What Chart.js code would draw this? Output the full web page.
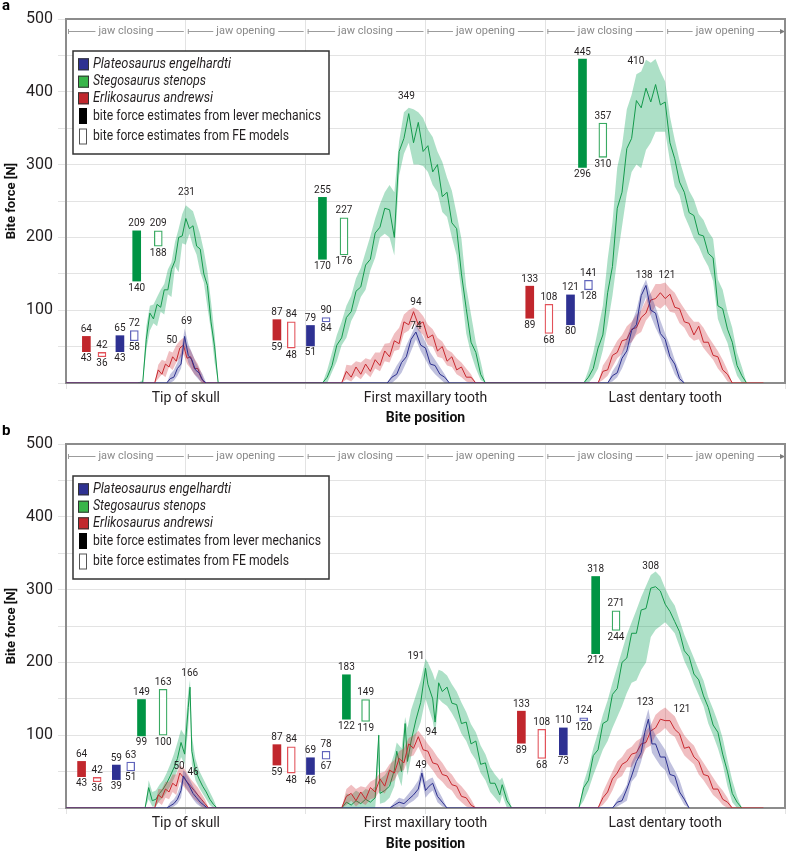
<!DOCTYPE html>
<html>
<head>
<meta charset="utf-8">
<title>Bite force</title>
<script src="https://cdn.jsdelivr.net/npm/chart.js@4.4.1/dist/chart.umd.min.js"></script>
<style>
  html, body { margin: 0; padding: 0; background: #fff; }
  .panel { position: relative; width: 787px; }
  #panelA { height: 425px; }
  #panelB { height: 426px; }
</style>
</head>
<body>
<div class="panel" id="panelA"><canvas id="chartA"></canvas></div>
<div class="panel" id="panelB"><canvas id="chartB"></canvas></div>
<script>
// x axis runs 0..600, one grid cell per 100
const biteLabels = {100: 'Tip of skull', 300: 'First maxillary tooth', 500: 'Last dentary tooth'};
const phaseLabels = ['jaw closing', 'jaw opening', 'jaw closing', 'jaw opening', 'jaw closing', 'jaw opening'];
const speciesNames = ['Plateosaurus engelhardti', 'Stegosaurus stenops', 'Erlikosaurus andrewsi'];
const methodNames = ['bite force estimates from lever mechanics', 'bite force estimates from FE models'];

// ---------- panel a: bar estimates ----------
const aRedLeverX = [17, 176, 387];
const aRedLever = [[43, 64], [59, 87], [89, 133]];
const aRedFeX = [30, 188, 403];
const aRedFe = [[36, 42], [48, 84], [68, 108]];
const aBlueLeverX = [45, 204, 421];
const aBlueLever = [[43, 65], [51, 79], [80, 121]];
const aBlueFeX = [57, 217, 436];
const aBlueFe = [[58, 72], [84, 90], [128, 141]];
const aGreenLeverX = [59, 214, 431];
const aGreenLever = [[140, 209], [170, 255], [296, 445]];
const aGreenFeX = [77, 232, 448];
const aGreenFe = [[188, 209], [176, 227], [310, 357]];

// ---------- panel a: curves ----------
const aGreenX = [60, 64, 67, 70, 73, 76, 79, 82, 85, 88, 91, 94, 97, 100, 103, 106, 109, 112, 115, 118, 121, 124, 127,
  214, 218, 222, 226, 230, 234, 238, 242, 246, 250, 254, 258, 262, 266, 270, 274, 278, 282, 286, 290, 294, 298, 302, 306, 310, 314, 318, 322, 326, 330, 334, 338, 342, 346, 350,
  432, 436, 440, 444, 448, 452, 456, 460, 464, 468, 472, 476, 480, 484, 488, 492, 496, 500, 504, 508, 512, 516, 520, 524, 528, 532, 536, 540, 544, 548, 552, 556, 560, 564, 568];
const aGreenY = [0, 0, 60, 96, 88, 108, 104, 128, 128, 156, 168, 200, 202, 226, 212, 216, 188, 184, 150, 134, 84, 50, 0,
  0, 8, 24, 52, 62, 90, 98, 126, 132, 162, 170, 206, 214, 240, 238, 200, 318, 336, 370, 330, 358, 318, 326, 290, 300, 256, 262, 220, 212, 150, 102, 56, 42, 12, 0,
  0, 8, 20, 48, 66, 124, 160, 240, 262, 322, 336, 388, 378, 405, 386, 410, 382, 386, 330, 308, 276, 262, 234, 230, 204, 202, 178, 172, 106, 102, 74, 56, 24, 10, 0];
const aGreenHi = [0, 4, 78, 106, 108, 118, 128, 136, 156, 166, 194, 212, 232, 244, 240, 236, 220, 204, 182, 154, 112, 68, 0,
  0, 18, 42, 66, 84, 106, 120, 144, 158, 180, 202, 226, 246, 262, 272, 262, 332, 372, 378, 376, 372, 364, 348, 338, 318, 304, 282, 264, 232, 198, 132, 94, 56, 30, 0,
  0, 18, 42, 74, 106, 170, 220, 296, 326, 376, 396, 424, 428, 444, 440, 445, 428, 414, 366, 334, 306, 284, 264, 252, 232, 224, 208, 198, 142, 128, 98, 76, 42, 22, 0];
const aGreenLo = [0, 0, 45, 72, 82, 78, 98, 94, 122, 118, 160, 152, 192, 190, 205, 188, 176, 152, 138, 104, 72, 28, 0,
  0, 0, 15, 30, 52, 62, 85, 98, 118, 128, 155, 172, 200, 205, 200, 175, 285, 315, 330, 300, 300, 298, 290, 272, 262, 235, 228, 200, 175, 125, 68, 40, 20, 4, 0,
  0, 0, 8, 20, 45, 80, 120, 170, 215, 260, 290, 300, 295, 320, 330, 345, 345, 345, 305, 270, 258, 230, 215, 198, 188, 172, 160, 140, 88, 70, 55, 30, 10, 0, 0];

const aRedX = [0, 74, 77, 80, 83, 86, 89, 92, 95, 98, 101, 104, 107, 110, 113, 116,
  230, 234, 238, 242, 246, 250, 254, 258, 262, 266, 270, 274, 278, 282, 286, 290, 294, 298, 302, 306, 310, 314, 318, 322, 326, 330, 334, 338, 342,
  444, 448, 452, 456, 460, 464, 468, 472, 476, 480, 484, 488, 492, 496, 500, 504, 508, 512, 516, 520, 524, 528, 532, 536, 540, 544, 548, 552, 556, 582];
const aRedY = [0, 0, 18, 12, 26, 22, 36, 30, 48, 52, 34, 36, 20, 20, 6, 0,
  0, 16, 8, 22, 12, 26, 16, 32, 24, 44, 36, 58, 54, 84, 80, 98, 80, 84, 62, 66, 44, 50, 30, 36, 18, 22, 8, 8, 0,
  0, 16, 18, 38, 42, 58, 60, 74, 76, 90, 96, 114, 116, 124, 116, 122, 104, 102, 84, 82, 66, 78, 56, 56, 38, 36, 18, 12, 0, 0];
const aRedHi = [0, 0, 25, 32, 30, 44, 42, 52, 58, 62, 52, 45, 34, 26, 14, 0,
  0, 25, 24, 30, 28, 34, 32, 42, 42, 54, 55, 68, 76, 94, 100, 104, 100, 92, 80, 74, 62, 57, 46, 42, 34, 28, 20, 12, 0,
  0, 24, 34, 46, 58, 66, 78, 84, 94, 100, 114, 124, 136, 136, 138, 130, 124, 112, 102, 92, 84, 84, 76, 64, 54, 44, 32, 18, 0, 0];
const aRedLo = [0, 0, 6, 12, 8, 22, 18, 28, 34, 40, 26, 20, 12, 8, 0, 0,
  0, 5, 2, 10, 5, 14, 8, 20, 16, 30, 28, 44, 46, 68, 72, 84, 72, 66, 52, 50, 36, 34, 24, 22, 12, 8, 2, 0, 0,
  0, 4, 10, 22, 34, 40, 52, 56, 66, 70, 86, 94, 106, 102, 108, 98, 96, 82, 76, 64, 58, 60, 48, 40, 32, 20, 12, 2, 0, 0];

const aBlueX = [0, 84, 87, 90, 93, 96, 99, 102, 105, 108, 111, 114, 117,
  268, 272, 276, 280, 284, 288, 292, 296, 300, 304, 308, 312, 316, 320,
  452, 456, 460, 464, 468, 472, 476, 480, 484, 488, 492, 496, 500, 504, 508, 512, 516];
const aBlueY = [0, 0, 6, 8, 20, 26, 64, 38, 32, 18, 14, 4, 0,
  0, 8, 12, 28, 36, 60, 70, 52, 48, 26, 24, 12, 8, 0,
  0, 10, 14, 34, 44, 72, 80, 120, 134, 100, 96, 68, 60, 36, 26, 6, 0];
const aBlueHi = [0, 0, 12, 18, 28, 42, 75, 54, 42, 30, 20, 12, 0,
  0, 12, 24, 34, 52, 66, 80, 70, 56, 42, 32, 22, 12, 0,
  0, 16, 26, 42, 62, 82, 100, 128, 142, 122, 104, 86, 68, 52, 32, 16, 0];
const aBlueLo = [0, 0, 0, 3, 10, 20, 50, 28, 18, 10, 4, 0, 0,
  0, 0, 6, 14, 28, 44, 60, 44, 32, 20, 12, 6, 0, 0,
  0, 2, 8, 20, 36, 56, 70, 100, 118, 92, 76, 62, 44, 28, 12, 2, 0];

// peak annotations (text, anchor x, anchor y)
const aPeakText = ['231', '69', '50', '349', '94', '74', '410', '138', '121'];
const aPeakX = [100.6, 100.6, 88.3, 284, 292, 292, 475.6, 482.5, 501.4];
const aPeakY = [261, 84, 58, 393, 110, 77, 441, 147, 147];

// ---------- panel b: bar estimates ----------
const bRedLeverX = [13, 176, 380];
const bRedLever = [[43, 64], [59, 87], [89, 133]];
const bRedFeX = [26, 188, 397];
const bRedFe = [[36, 42], [48, 84], [68, 108]];
const bBlueLeverX = [42, 204, 415];
const bBlueLever = [[39, 59], [46, 69], [73, 110]];
const bBlueFeX = [54, 217, 432];
const bBlueFe = [[51, 63], [67, 78], [120, 124]];
const bGreenLeverX = [63, 234, 442];
const bGreenLever = [[99, 149], [122, 183], [212, 318]];
const bGreenFeX = [81, 250, 459];
const bGreenFe = [[100, 163], [119, 149], [244, 271]];

// ---------- panel b: curves ----------
const bGreenX = [66, 69, 72, 75, 78, 81, 84, 87, 90, 93, 96, 99, 102, 103.5, 105, 108, 111, 114, 117, 120, 123, 126,
  230, 234, 238, 242, 246, 250, 254, 258, 261, 262, 266, 270, 274, 276, 280, 283, 285, 288, 292, 296, 300, 302, 306, 308, 311, 314, 318, 322, 326, 330, 334, 338, 342, 346, 350, 354, 358, 362, 364, 368, 372,
  428, 432, 436, 440, 444, 448, 452, 456, 460, 464, 468, 472, 476, 480, 484, 488, 492, 496, 500, 504, 508, 512, 516, 520, 524, 528, 532, 536, 540, 544, 548, 552, 556, 560, 564];
const bGreenY = [0, 28, 10, 12, 20, 26, 34, 44, 55, 68, 90, 74, 138, 166, 78, 52, 40, 30, 22, 12, 5, 0,
  0, 8, 4, 10, 6, 12, 8, 14, 100, 20, 24, 30, 52, 78, 50, 116, 64, 92, 121, 145, 192, 170, 150, 118, 172, 160, 166, 144, 142, 116, 118, 88, 92, 60, 62, 34, 34, 18, 32, 10, 0,
  0, 28, 38, 72, 80, 116, 120, 156, 164, 200, 206, 240, 240, 272, 274, 302, 304, 298, 280, 270, 256, 242, 216, 208, 184, 176, 154, 138, 114, 104, 74, 50, 20, 8, 0];
const bGreenHi = [0, 38, 22, 24, 32, 38, 48, 60, 74, 90, 108, 100, 160, 176, 100, 68, 52, 42, 32, 22, 12, 0,
  0, 20, 18, 24, 20, 26, 24, 30, 104, 40, 45, 55, 75, 90, 82, 125, 110, 135, 155, 175, 205, 200, 185, 175, 190, 188, 182, 170, 160, 145, 132, 115, 104, 86, 74, 56, 46, 38, 42, 22, 0,
  0, 35, 56, 82, 104, 128, 148, 172, 194, 216, 238, 255, 272, 290, 305, 320, 325, 318, 302, 288, 278, 258, 238, 222, 206, 190, 175, 152, 136, 118, 96, 66, 38, 16, 0];
const bGreenLo = [0, 12, 2, 2, 10, 14, 22, 30, 40, 52, 70, 60, 110, 150, 60, 38, 28, 20, 12, 4, 0, 0,
  0, 0, 0, 0, 0, 0, 0, 0, 60, 6, 8, 14, 30, 50, 30, 70, 45, 70, 100, 118, 150, 140, 120, 100, 150, 145, 140, 130, 118, 102, 92, 76, 66, 48, 38, 22, 14, 6, 18, 0, 0,
  0, 10, 25, 45, 62, 80, 92, 110, 125, 140, 158, 172, 175, 190, 200, 235, 245, 250, 255, 248, 240, 222, 202, 188, 170, 155, 140, 116, 100, 82, 60, 30, 8, 0, 0];

const bRedX = [0, 74, 77, 80, 83, 86, 89, 92, 95, 98, 101, 104, 107, 110, 113, 116, 119,
  230, 234, 238, 242, 246, 250, 254, 258, 262, 266, 270, 274, 278, 282, 286, 290, 294, 298, 302, 306, 310, 314, 318, 322, 326, 330, 334, 338, 342,
  444, 448, 452, 456, 460, 464, 468, 472, 476, 480, 484, 488, 492, 496, 500, 504, 508, 512, 516, 520, 524, 528, 532, 536, 540, 544, 548, 552, 556, 582];
const bRedY = [0, 0, 18, 14, 26, 22, 34, 30, 48, 42, 36, 30, 24, 18, 12, 6, 0,
  0, 16, 20, 10, 22, 12, 28, 22, 40, 30, 52, 48, 68, 62, 88, 82, 98, 80, 78, 62, 60, 46, 44, 32, 30, 16, 14, 4, 0,
  0, 14, 22, 40, 48, 60, 64, 74, 76, 88, 90, 106, 110, 122, 120, 120, 108, 102, 82, 84, 70, 64, 46, 44, 26, 26, 12, 8, 0, 0];
const bRedHi = [0, 0, 26, 26, 36, 36, 46, 46, 58, 56, 48, 40, 34, 28, 20, 12, 0,
  0, 26, 32, 26, 30, 28, 36, 40, 48, 50, 60, 66, 78, 82, 96, 100, 106, 98, 88, 80, 70, 62, 52, 46, 36, 30, 22, 12, 0,
  0, 22, 36, 50, 64, 70, 80, 84, 92, 96, 106, 114, 128, 134, 138, 132, 126, 112, 100, 92, 86, 72, 62, 52, 42, 32, 24, 14, 0, 0];
const bRedLo = [0, 0, 8, 4, 14, 12, 22, 18, 36, 30, 24, 18, 12, 8, 2, 0, 0,
  0, 4, 10, 2, 8, 4, 12, 14, 24, 20, 34, 38, 50, 52, 70, 72, 84, 70, 60, 52, 42, 36, 28, 24, 14, 8, 2, 0, 0,
  0, 4, 12, 24, 40, 44, 56, 56, 68, 68, 82, 86, 100, 104, 110, 102, 98, 84, 72, 66, 60, 46, 38, 28, 18, 12, 4, 0, 0, 0];

const bBlueX = [0, 84, 87, 90, 93, 96, 98, 100, 103, 106, 109, 112, 115, 118,
  270, 274, 278, 282, 286, 290, 294, 297, 300, 303, 306, 310, 314, 318,
  456, 460, 464, 468, 472, 476, 480, 483, 486, 489, 492, 496, 500, 504, 508, 512, 516, 520];
const bBlueY = [0, 0, 3, 6, 12, 24, 44, 38, 30, 20, 14, 8, 4, 0,
  0, 4, 8, 6, 12, 18, 26, 48, 24, 30, 34, 16, 8, 0,
  0, 8, 10, 26, 44, 64, 76, 104, 122, 88, 88, 70, 70, 46, 44, 22, 12, 0];
const bBlueHi = [0, 0, 8, 12, 20, 34, 52, 48, 40, 30, 22, 14, 8, 0,
  0, 8, 14, 12, 20, 28, 38, 56, 36, 40, 42, 26, 14, 0,
  0, 12, 20, 32, 62, 76, 98, 118, 136, 110, 100, 90, 80, 64, 52, 38, 18, 0];
const bBlueLo = [0, 0, 0, 2, 6, 14, 34, 28, 20, 12, 6, 2, 0, 0,
  0, 0, 2, 0, 6, 10, 16, 38, 14, 20, 24, 8, 2, 0,
  0, 2, 6, 10, 36, 44, 64, 84, 105, 76, 68, 58, 52, 36, 28, 16, 4, 0];

const bPeakText = ['166', '50', '46', '191', '94', '49', '308', '123', '121'];
const bPeakX = [103.3, 94.4, 106, 292, 304.7, 296.4, 488, 483.3, 514];
const bPeakY = [185, 57, 49, 208, 104, 59, 332, 145, 135];

// ---------- styling ----------
const BLUE = {solid: '#2e3192', line: '#2b2f8f', band: 'rgba(46,49,146,0.30)', edge: '#6064bb', key: '#2e3192'};
const GREEN = {solid: '#009444', line: '#13994b', band: 'rgba(0,160,80,0.32)', edge: '#3aaa62', key: '#39b54a'};
const RED = {solid: '#c1272d', line: '#c8282e', band: 'rgba(205,40,50,0.30)', edge: '#e2525a', key: '#c1272d'};
const INK = '#231f20';

const pts = (xs, ys) => xs.map((x, i) => ({x: x, y: ys[i]}));
const ranges = (xs, rs) => xs.map((x, i) => ({x: x, y: rs[i]}));

function barSet(xs, rs, c, open) {
  return {
    type: 'bar',
    data: ranges(xs, rs),
    backgroundColor: open ? '#ffffff' : c.solid,
    borderColor: open ? c.edge : c.solid,
    borderWidth: open ? 1.3 : 0,
    borderSkipped: false,
    barThickness: 8,
    grouped: false,
    order: 0,
    valueLabels: true
  };
}

function curveSets(xs, ys, hi, lo, c, order) {
  return [
    { data: pts(xs, hi), borderColor: 'rgba(0,0,0,0)', borderWidth: 1, pointRadius: 0, fill: '+1', backgroundColor: c.band, order: order + 1 },
    { data: pts(xs, lo), borderColor: 'rgba(0,0,0,0)', borderWidth: 1, pointRadius: 0, fill: false, order: order + 1 },
    { data: pts(xs, ys), borderColor: c.line, borderWidth: 1, pointRadius: 0, fill: false, order: order }
  ];
}

// jaw phase row, plot frame, value labels, legend box, panel letter
const decorPlugin = {
  id: 'decor',
  beforeDatasetsDraw(chart) {
    const {ctx, chartArea: a, scales: {x}} = chart;
    const y = a.top + 12;
    ctx.save();
    ctx.font = '11px Roboto';
    ctx.fillStyle = '#8a8a8a';
    ctx.strokeStyle = '#9c9c9c';
    ctx.lineWidth = 1;
    ctx.textAlign = 'center';
    ctx.textBaseline = 'middle';
    phaseLabels.forEach((lab, i) => {
      const x0 = x.getPixelForValue(i * 100), x1 = x.getPixelForValue((i + 1) * 100);
      const mid = (x0 + x1) / 2;
      const tw = ctx.measureText(lab).width;
      ctx.fillText(lab, mid, y);
      ctx.beginPath();
      ctx.moveTo(x0 + 2, y + 0.5); ctx.lineTo(mid - tw / 2 - 3, y + 0.5);
      ctx.moveTo(mid + tw / 2 + 3, y + 0.5); ctx.lineTo(x1 - 2, y + 0.5);
      ctx.moveTo(x0 + 2.5, y - 2); ctx.lineTo(x0 + 2.5, y + 3);
      ctx.stroke();
    });
    const xe = x.getPixelForValue(600);
    ctx.fillStyle = '#7a7a7a';
    ctx.beginPath();
    ctx.moveTo(xe, y + 0.5); ctx.lineTo(xe - 5, y - 2); ctx.lineTo(xe - 5, y + 3); ctx.closePath();
    ctx.fill();
    ctx.restore();
  },
  afterDatasetsDraw(chart, args, opts) {
    const {ctx, chartArea: a, scales: {x, y}} = chart;
    ctx.save();
    // top and right frame
    ctx.strokeStyle = '#8c8c8c';
    ctx.lineWidth = 2;
    ctx.beginPath();
    ctx.moveTo(a.left, a.top); ctx.lineTo(a.right, a.top); ctx.lineTo(a.right, a.bottom);
    ctx.stroke();

    // numbers above / below each bar
    ctx.font = '10px Roboto';
    ctx.fillStyle = INK;
    ctx.textAlign = 'center';
    ctx.textBaseline = 'middle';
    chart.data.datasets.forEach(ds => {
      if (!ds.valueLabels) return;
      ds.data.forEach(p => {
        const px = x.getPixelForValue(p.x);
        ctx.fillText(String(p.y[1]), px, y.getPixelForValue(p.y[1]) - 7);
        ctx.fillText(String(p.y[0]), px, y.getPixelForValue(p.y[0]) + 7);
      });
    });
    // peak numbers of the curves
    opts.peakText.forEach((t, i) => {
      ctx.fillText(t, x.getPixelForValue(opts.peakX[i]), y.getPixelForValue(opts.peakY[i]));
    });

    // legend box
    const lx = a.left + 7, ly = a.top + 32;
    ctx.fillStyle = '#fff';
    ctx.fillRect(lx, ly, 256, 103);
    ctx.strokeStyle = '#333';
    ctx.lineWidth = 1.5;
    ctx.strokeRect(lx, ly, 256, 103);
    const rowY = [13.3, 30.7, 47.3, 65, 85.5];
    const keys = [BLUE.key, GREEN.key, RED.key];
    const nameW = [138, 113, 120];
    const methodW = [228, 196];
    ctx.textAlign = 'left';
    ctx.lineWidth = 1;
    speciesNames.forEach((n, i) => {
      const cy = ly + rowY[i];
      ctx.fillStyle = keys[i];
      ctx.fillRect(lx + 5, cy - 6, 11, 12);
      ctx.strokeStyle = '#333';
      ctx.strokeRect(lx + 5.5, cy - 5.5, 10, 11);
      ctx.fillStyle = INK;
      ctx.font = 'italic 15px Roboto';
      ctx.fillText(n, lx + 20, cy, nameW[i]);
    });
    methodNames.forEach((n, i) => {
      const cy = ly + rowY[3 + i];
      if (i === 0) {
        ctx.fillStyle = '#000';
        ctx.fillRect(lx + 6, cy - 8, 8, 16);
      } else {
        ctx.fillStyle = '#fff';
        ctx.fillRect(lx + 6, cy - 8, 8, 16);
        ctx.strokeStyle = '#555';
        ctx.strokeRect(lx + 6.5, cy - 7.5, 7, 15);
      }
      ctx.fillStyle = INK;
      ctx.font = '15px Roboto';
      ctx.fillText(n, lx + 20, cy, methodW[i]);
    });

    // panel letter
    ctx.font = 'bold 15px Roboto';
    ctx.fillStyle = '#000';
    ctx.textBaseline = 'alphabetic';
    ctx.fillText(opts.letter, 2, 10);
    ctx.restore();
  }
};

function buildChart(canvasId, d) {
  const datasets = [
    barSet(d.redLeverX, d.redLever, RED, false),
    barSet(d.redFeX, d.redFe, RED, true),
    barSet(d.blueLeverX, d.blueLever, BLUE, false),
    barSet(d.blueFeX, d.blueFe, BLUE, true),
    barSet(d.greenLeverX, d.greenLever, GREEN, false),
    barSet(d.greenFeX, d.greenFe, GREEN, true),
    ...curveSets(d.blueX, d.blueY, d.blueHi, d.blueLo, BLUE, 1),
    ...curveSets(d.redX, d.redY, d.redHi, d.redLo, RED, 3),
    ...curveSets(d.greenX, d.greenY, d.greenHi, d.greenLo, GREEN, 5)
  ];

  return new Chart(document.getElementById(canvasId), {
    type: 'line',
    data: { datasets: datasets },
    plugins: [decorPlugin],
    options: {
      responsive: true,
      maintainAspectRatio: false,
      animation: false,
      layout: { padding: { left: 0, top: 19, right: 2, bottom: 0 } },
      plugins: {
        legend: { display: false },
        tooltip: { enabled: false },
        decor: { letter: d.letter, peakText: d.peakText, peakX: d.peakX, peakY: d.peakY }
      },
      scales: {
        x: {
          type: 'linear',
          min: 0,
          max: 600,
          offset: false,
          afterFit: s => { s.height = d.xHeight; },
          grid: { color: '#e3e3e3', tickLength: 6, offset: false },
          border: { color: '#8c8c8c', width: 2 },
          ticks: {
            stepSize: 100,
            autoSkip: false,
            maxRotation: 0,
            padding: 1,
            color: INK,
            font: { family: 'Roboto', size: 14 },
            callback: v => biteLabels[v] || ''
          },
          title: {
            display: true,
            text: 'Bite position',
            color: '#111',
            font: { family: 'Roboto', size: 14, weight: 'bold', lineHeight: 1 },
            padding: 0
          }
        },
        y: {
          min: 0,
          max: 500,
          afterFit: s => { s.width = 66; },
          grid: { color: '#e3e3e3', tickLength: 8 },
          border: { color: '#8c8c8c', width: 2 },
          ticks: {
            stepSize: 50,
            padding: 5,
            color: INK,
            font: { family: 'Roboto', size: 16 },
            callback: v => (v % 100 === 0 && v > 0) ? String(v) : ''
          },
          title: {
            display: true,
            text: 'Bite force [N]',
            color: '#111',
            font: { family: 'Roboto', size: 13, weight: 'bold', lineHeight: 1.2 },
            padding: { top: 4, bottom: 0 }
          }
        }
      }
    }
  });
}

buildChart('chartA', {
  letter: 'a', xHeight: 42,
  redLeverX: aRedLeverX, redLever: aRedLever, redFeX: aRedFeX, redFe: aRedFe,
  blueLeverX: aBlueLeverX, blueLever: aBlueLever, blueFeX: aBlueFeX, blueFe: aBlueFe,
  greenLeverX: aGreenLeverX, greenLever: aGreenLever, greenFeX: aGreenFeX, greenFe: aGreenFe,
  blueX: aBlueX, blueY: aBlueY, blueHi: aBlueHi, blueLo: aBlueLo,
  redX: aRedX, redY: aRedY, redHi: aRedHi, redLo: aRedLo,
  greenX: aGreenX, greenY: aGreenY, greenHi: aGreenHi, greenLo: aGreenLo,
  peakText: aPeakText, peakX: aPeakX, peakY: aPeakY
});

buildChart('chartB', {
  letter: 'b', xHeight: 43,
  redLeverX: bRedLeverX, redLever: bRedLever, redFeX: bRedFeX, redFe: bRedFe,
  blueLeverX: bBlueLeverX, blueLever: bBlueLever, blueFeX: bBlueFeX, blueFe: bBlueFe,
  greenLeverX: bGreenLeverX, greenLever: bGreenLever, greenFeX: bGreenFeX, greenFe: bGreenFe,
  blueX: bBlueX, blueY: bBlueY, blueHi: bBlueHi, blueLo: bBlueLo,
  redX: bRedX, redY: bRedY, redHi: bRedHi, redLo: bRedLo,
  greenX: bGreenX, greenY: bGreenY, greenHi: bGreenHi, greenLo: bGreenLo,
  peakText: bPeakText, peakX: bPeakX, peakY: bPeakY
});
</script>
</body>
</html>
